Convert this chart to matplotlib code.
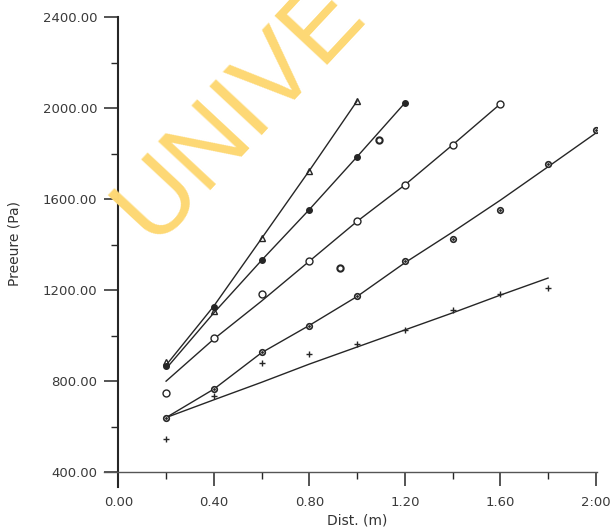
import numpy as np
import matplotlib
matplotlib.use('Agg')
import matplotlib.pyplot as plt
from matplotlib.ticker import FixedLocator, FixedFormatter


# 距离 (m)
x_pts = [0.2, 0.4, 0.6, 0.8, 1.0, 1.2, 1.4, 1.6, 1.8, 2.0]

# 拟合曲线 (Pa)
line_a = [870, 1130, 1427, 1725, 2031]
line_b = [855, 1100, 1331, 1554, 1786, 2022]
line_c = [800, 985, 1152, 1327, 1502, 1662, 1838, 2018]
line_d = [640, 765, 925, 1045, 1172, 1320, 1455, 1595, 1742, 1890]
line_e = [640, 718, 795, 875, 950, 1025, 1100, 1178, 1253]

# 实测点 (Pa)
meas_a = [885, 1110, 1427, 1725, 2031]
meas_b = [868, 1126, 1331, 1554, 1786, 2022]
meas_c = [750, 990, 1183, 1327, 1505, 1663, 1838, 2018]
meas_d = [640, 767, 929, 1043, 1174, 1327, 1423, 1554, 1755, 1904]
meas_e = [544, 737, 881, 920, 964, 1025, 1113, 1183, 1209]
extra_x = [0.93, 1.09]
extra_y = [1296, 1860]

x_ticks = [0.0, 0.4, 0.8, 1.2, 1.6, 2.0]
x_labels = ['0.00', '0.40', '0.80', '1.20', '1.60', '2:00']
y_ticks = [400, 800, 1200, 1600, 2000, 2400]
y_labels = ['400.00', '800.00', '1200.00', '1600.00', '2000.00', '2400.00']

ink = '#262626'

fig = plt.figure(figsize=(6.10, 5.29), dpi=100)
ax = fig.add_axes([104 / 610, 1 - 487 / 529, 493 / 610, 470 / 529])

# 水印
fig.text(152 / 610, 1 - 244 / 529, 'UNIVE', rotation=47, rotation_mode='anchor',
         ha='left', va='baseline', fontsize=74, color='#FDD874', zorder=0,
         family='Liberation Sans')

lw = 1.0
ax.plot(x_pts[:len(line_a)], line_a, color=ink, lw=lw)
ax.plot(x_pts[:len(line_b)], line_b, color=ink, lw=lw)
ax.plot(x_pts[:len(line_c)], line_c, color=ink, lw=lw)
ax.plot(x_pts[:len(line_d)], line_d, color=ink, lw=lw)
ax.plot(x_pts[:len(line_e)], line_e, color=ink, lw=lw)

ax.plot(x_pts[:len(meas_a)], meas_a, ls='none', marker='^', ms=4, mfc='none', mec=ink, mew=1)
ax.plot(x_pts[:len(meas_b)], meas_b, ls='none', marker='o', ms=4, mfc=ink, mec=ink)
ax.plot(x_pts[:len(meas_c)], meas_c, ls='none', marker='o', ms=5, mfc='white', mec=ink, mew=1)
ax.plot(x_pts[:len(meas_d)], meas_d, ls='none', marker='o', ms=4, mfc='white', mec=ink, mew=1.2)
ax.plot(x_pts[:len(meas_d)], meas_d, ls='none', marker='.', ms=2, color=ink)
ax.plot(x_pts[:len(meas_e)], meas_e, ls='none', marker='+', ms=5, mec=ink, mew=1)
ax.plot(extra_x, extra_y, ls='none', marker='o', ms=4.5, mfc='white', mec=ink, mew=1.5)

ax.set_xlim(-0.06, 2.005)
ax.set_ylim(335, 2400)

for s in ['top', 'right']:
    ax.spines[s].set_visible(False)
ax.spines['left'].set_position(('data', 0))
ax.spines['bottom'].set_position(('data', 400))
ax.spines['left'].set_linewidth(1.5)
ax.spines['bottom'].set_linewidth(1.0)
ax.spines['left'].set_color(ink)
ax.spines['bottom'].set_color('#555555')

ax.xaxis.set_major_locator(FixedLocator(x_ticks))
ax.xaxis.set_major_formatter(FixedFormatter(x_labels))
ax.xaxis.set_minor_locator(FixedLocator([0.2, 0.6, 1.0, 1.4, 1.8]))
ax.yaxis.set_major_locator(FixedLocator(y_ticks))
ax.yaxis.set_major_formatter(FixedFormatter(y_labels))
ax.yaxis.set_minor_locator(FixedLocator([600, 1000, 1400, 1800, 2200]))

ax.tick_params(which='major', direction='out', length=10, width=1.1, color=ink,
               labelsize=9.5, labelcolor='#3a3a3a')
ax.tick_params(axis='x', which='major', pad=7)
ax.tick_params(axis='y', which='major', pad=5)
ax.tick_params(which='minor', direction='out', length=5, width=1.0, color=ink)

fig.text(357 / 610, 1 - 521 / 529, 'Dist. (m)', ha='center', va='center',
         fontsize=10, color='#333333')
fig.text(15 / 610, 1 - 244 / 529, 'Preeure (Pa)', ha='center', va='center',
         rotation=90, fontsize=10, color='#333333')

fig.savefig('out.png', dpi=100, facecolor='white')
